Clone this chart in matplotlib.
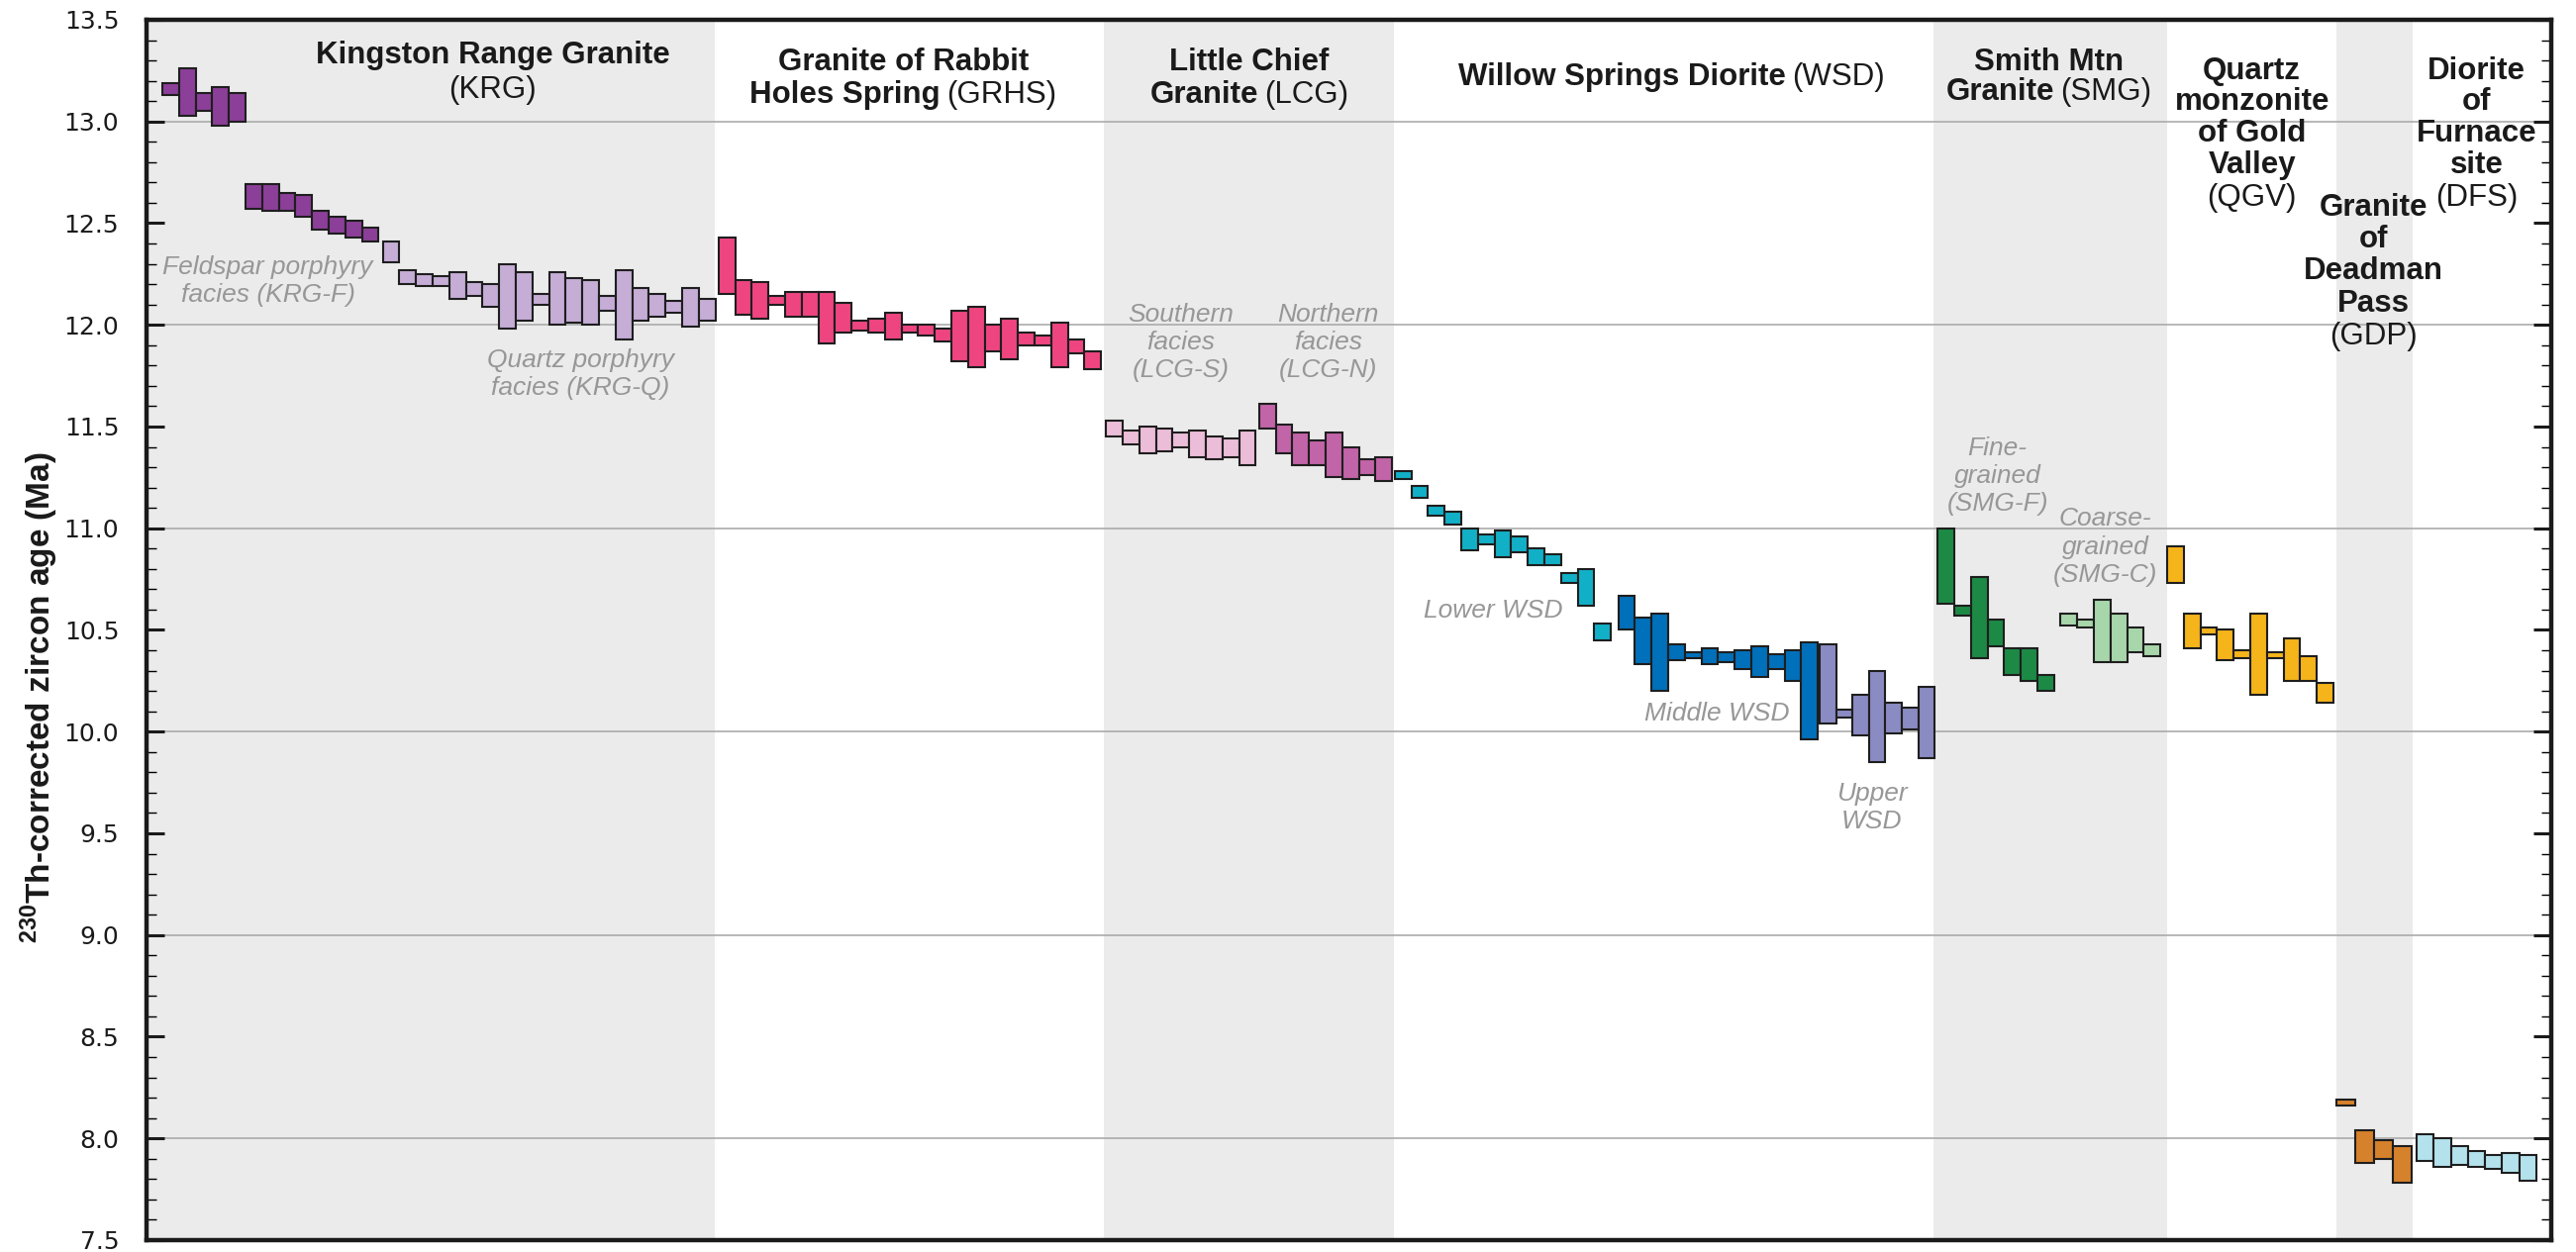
import numpy as np
import matplotlib
matplotlib.use('Agg')
import matplotlib.pyplot as plt
from matplotlib.transforms import offset_copy
from matplotlib.ticker import MultipleLocator, FormatStrFormatter

# zircon age intervals (top, bottom) in Ma, one tuple per grain, left to right
KRG_F = [(13.19, 13.13), (13.26, 13.03), (13.14, 13.05), (13.17, 12.98), (13.14, 13.00),
         (12.69, 12.57), (12.69, 12.56), (12.65, 12.56), (12.64, 12.53), (12.56, 12.47),
         (12.53, 12.45), (12.51, 12.43), (12.48, 12.41)]
KRG_Q = [(12.41, 12.31), (12.27, 12.20), (12.25, 12.19), (12.24, 12.19), (12.26, 12.13),
         (12.21, 12.14), (12.20, 12.09), (12.30, 11.98), (12.26, 12.02), (12.15, 12.10),
         (12.26, 12.00), (12.23, 12.01), (12.22, 12.00), (12.14, 12.07), (12.27, 11.93),
         (12.18, 12.02), (12.15, 12.04), (12.12, 12.06), (12.18, 11.99), (12.13, 12.02)]
GRHS = [(12.43, 12.15), (12.22, 12.05), (12.21, 12.03), (12.14, 12.10), (12.16, 12.04),
        (12.16, 12.04), (12.16, 11.91), (12.11, 11.96), (12.02, 11.97), (12.03, 11.96),
        (12.06, 11.93), (12.00, 11.96), (12.00, 11.95), (11.98, 11.92), (12.07, 11.82),
        (12.09, 11.79), (12.00, 11.87), (12.03, 11.83), (11.96, 11.90), (11.95, 11.90),
        (12.01, 11.79), (11.93, 11.86), (11.87, 11.78)]
LCG_S = [(11.53, 11.45), (11.48, 11.41), (11.50, 11.37), (11.49, 11.38), (11.47, 11.40),
         (11.48, 11.35), (11.45, 11.34), (11.44, 11.35), (11.48, 11.31)]
LCG_N = [(11.61, 11.49), (11.51, 11.37), (11.47, 11.31), (11.43, 11.31), (11.47, 11.25),
         (11.40, 11.24), (11.34, 11.26), (11.35, 11.23)]
WSD_L = [(11.28, 11.24), (11.21, 11.15), (11.11, 11.06), (11.08, 11.02), (11.00, 10.89),
         (10.97, 10.92), (10.99, 10.86), (10.96, 10.88), (10.90, 10.82), (10.87, 10.82),
         (10.78, 10.73), (10.80, 10.62), (10.53, 10.45)]
WSD_M = [(10.67, 10.50), (10.56, 10.33), (10.58, 10.20), (10.43, 10.35), (10.39, 10.36),
         (10.41, 10.33), (10.39, 10.34), (10.40, 10.31), (10.42, 10.27), (10.38, 10.31),
         (10.40, 10.25), (10.44, 9.96)]
WSD_U = [(10.43, 10.04), (10.11, 10.07), (10.18, 9.98), (10.30, 9.85), (10.14, 9.99),
         (10.12, 10.01), (10.22, 9.87)]
SMG_F = [(11.00, 10.63), (10.62, 10.57), (10.76, 10.36), (10.55, 10.42), (10.41, 10.28),
         (10.41, 10.25), (10.28, 10.20)]
SMG_C = [(10.58, 10.52), (10.55, 10.51), (10.65, 10.34), (10.58, 10.34), (10.51, 10.39),
         (10.43, 10.37)]
QGV = [(10.91, 10.73), (10.58, 10.41), (10.51, 10.48), (10.50, 10.35), (10.40, 10.36),
       (10.58, 10.18), (10.39, 10.36), (10.46, 10.25), (10.37, 10.25), (10.24, 10.14)]
GDP = [(8.19, 8.16), (8.04, 7.88), (7.99, 7.90), (7.96, 7.78)]
DFS = [(8.02, 7.89), (8.00, 7.86), (7.96, 7.87), (7.94, 7.86), (7.92, 7.85), (7.93, 7.83),
       (7.92, 7.79)]

# layout: (data, first slot, bar width, fill colour)
GROUPS = [
    (KRG_F, 0.95, 1.0, '#8B3F98'),
    (KRG_Q, 14.2, 1.0, '#C5ADD6'),
    (GRHS, 34.4, 1.0, '#EE4581'),
    (LCG_S, 57.7, 1.0, '#EBBDD8'),
    (LCG_N, 66.9, 1.0, '#C264A8'),
    (WSD_L, 75.05, 1.0, '#12B0C6'),
    (WSD_M, 88.5, 1.0, '#0070BA'),
    (WSD_U, 100.6, 0.99, '#8B8BC3'),
    (SMG_F, 107.7, 1.0, '#1C8A45'),
    (SMG_C, 115.1, 1.0, '#A8D6AB'),
    (QGV, 121.5, 1.0, '#F5B41A'),
    (GDP, 131.7, 1.13, '#D6812B'),
    (DFS, 136.5, 1.03, '#B4E2EC'),
]
BANDS = [(0, 34.17), (57.56, 75.0), (107.44, 121.5), (131.7, 136.25)]
XMAX = 144.6

NARROW = ['Liberation Sans Narrow', 'Liberation Sans', 'DejaVu Sans']
plt.rcParams.update({
    'font.family': ['Liberation Sans', 'DejaVu Sans'],
    'mathtext.fontset': 'custom',
    'mathtext.rm': 'Liberation Sans',
    'mathtext.bf': 'Liberation Sans:bold',
})

fig = plt.figure(figsize=(26.02, 12.65), dpi=100)
ax = fig.add_axes([0.0569, 0.0095, 0.9335, 0.9747])
ax.set_xlim(0, XMAX)
ax.set_ylim(7.5, 13.5)

for x0, x1 in BANDS:
    ax.axvspan(x0, x1, color='#EBEBEB', lw=0, zorder=0)
for yg in np.arange(8, 14):
    ax.axhline(yg, color='#ABABAB', lw=1.2, zorder=1)

for data, start, w, col in GROUPS:
    hi = np.array([d[0] for d in data])
    lo = np.array([d[1] for d in data])
    xs = start + np.arange(len(data)) * w
    ax.bar(xs, hi - lo, bottom=lo, width=w, align='edge', color=col,
           edgecolor='#1E1E1E', linewidth=1.5, zorder=3)

# axes styling
for s in ax.spines.values():
    s.set_linewidth(3.2)
    s.set_color('#1A1A1A')
ax.set_xticks([])
ax.yaxis.set_major_locator(MultipleLocator(0.5))
ax.yaxis.set_minor_locator(MultipleLocator(0.1))
ax.yaxis.set_major_formatter(FormatStrFormatter('%.1f'))
ax.tick_params(axis='y', which='major', direction='in', length=13, width=2.2,
               right=True, labelsize=18, pad=20, colors='#1A1A1A')
ax.tick_params(axis='y', which='minor', direction='in', length=7, width=1.0, right=True)
for lab in ax.get_yticklabels():
    lab.set_family('DejaVu Sans')
ax.set_ylabel(r'$^{\mathbf{230}}$Th-corrected zircon age (Ma)', fontsize=24,
              fontweight='bold', family=NARROW, color='#1A1A1A')
ax.yaxis.set_label_coords(-0.036, 0.445)

# group headings (x slot, y, bold part, regular part)
HEADERS = [
    (20.8, 13.323, 'Kingston Range Granite', ''),
    (20.8, 13.153, '', '(KRG)'),
    (45.5, 13.29, 'Granite of Rabbit', ''),
    (45.5, 13.129, 'Holes Spring', '(GRHS)'),
    (66.3, 13.29, 'Little Chief', ''),
    (66.3, 13.129, 'Granite', '(LCG)'),
    (91.7, 13.218, 'Willow Springs Diorite', '(WSD)'),
    (114.4, 13.289, 'Smith Mtn', ''),
    (114.4, 13.143, 'Granite', '(SMG)'),
    (126.6, 13.248, 'Quartz', ''),
    (126.6, 13.094, 'monzonite', ''),
    (126.6, 12.940, 'of Gold', ''),
    (126.6, 12.786, 'Valley', ''),
    (126.6, 12.624, '', '(QGV)'),
    (133.9, 12.576, 'Granite', ''),
    (133.9, 12.420, 'of', ''),
    (133.9, 12.262, 'Deadman', ''),
    (133.9, 12.105, 'Pass', ''),
    (133.9, 11.944, '', '(GDP)'),
    (140.1, 13.248, 'Diorite', ''),
    (140.1, 13.094, 'of', ''),
    (140.1, 12.940, 'Furnace', ''),
    (140.1, 12.786, 'site', ''),
    (140.1, 12.624, '', '(DFS)'),
]
renderer = fig.canvas.get_renderer()
for x, y, bold, reg in HEADERS:
    parts = []
    if bold:
        parts.append(ax.text(x, y, bold, fontsize=22.5, fontweight='bold', family=NARROW,
                             ha='left', va='center', color='#1A1A1A', zorder=5))
    if reg:
        parts.append(ax.text(x, y, reg, fontsize=22.5, family=NARROW,
                             ha='left', va='center', color='#1A1A1A', zorder=5))
    gap = 6
    widths = [p.get_window_extent(renderer).width for p in parts]
    total = sum(widths) + gap * (len(parts) - 1)
    off = -total / 2
    for p, wd in zip(parts, widths):
        p.set_transform(offset_copy(ax.transData, fig=fig, x=off, y=0, units='dots'))
        off += wd + gap

# facies labels
FACIES = [
    (7.3, 12.215, 'Feldspar porphyry\nfacies (KRG-F)'),
    (26.1, 11.757, 'Quartz porphyry\nfacies (KRG-Q)'),
    (62.2, 11.913, 'Southern\nfacies\n(LCG-S)'),
    (71.05, 11.913, 'Northern\nfacies\n(LCG-N)'),
    (81.0, 10.595, 'Lower WSD'),
    (94.4, 10.088, 'Middle WSD'),
    (103.75, 9.625, 'Upper\nWSD'),
    (111.3, 11.258, 'Fine-\ngrained\n(SMG-F)'),
    (117.8, 10.908, 'Coarse-\ngrained\n(SMG-C)'),
]
for x, y, s in FACIES:
    ax.text(x, y, s, fontsize=19, style='italic', color='#979797', ha='center',
            va='center', linespacing=1.22, zorder=5)

fig.savefig('out.png', dpi=100, facecolor='white')
